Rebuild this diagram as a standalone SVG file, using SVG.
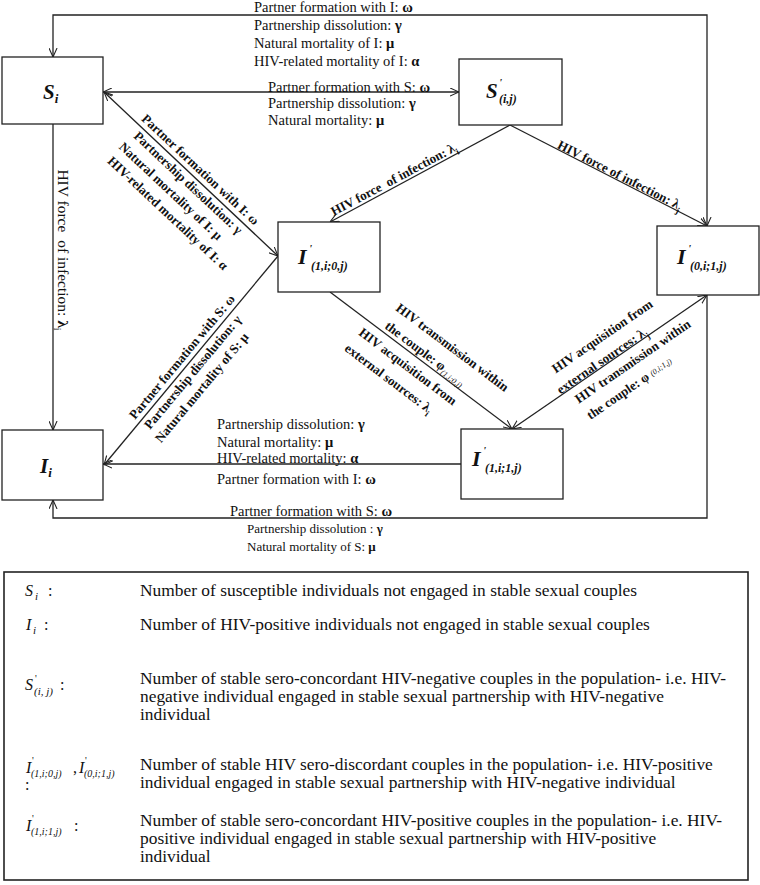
<svg xmlns="http://www.w3.org/2000/svg" width="760" height="885" viewBox="0 0 760 885">
<style>
.box{fill:#fff;stroke:#222;stroke-width:1.3}
.c{fill:none;stroke:#222;stroke-width:1.3}
.lab{font-family:"Liberation Serif",serif;font-size:14.5px;fill:#111}
.lab2{font-family:"Liberation Serif",serif;font-size:13px;fill:#111}
.bl{font-family:"Liberation Serif",serif;font-size:13px;font-weight:bold;fill:#111}
.g{font-weight:bold}
.nd{font-family:"Liberation Serif",serif;font-weight:bold;font-style:italic;fill:#111}
.leg{font-family:"Liberation Serif",serif;font-size:16px;fill:#111}
.sym{font-family:"Liberation Serif",serif;font-style:italic;fill:#111}
</style>
<defs>
<marker id="arr" viewBox="0 0 10 10" refX="10" refY="5" markerWidth="9" markerHeight="9" markerUnits="userSpaceOnUse" orient="auto-start-reverse">
<path d="M0,0.5 L10,5 L0,9.5" fill="none" stroke="#222" stroke-width="1.2"/>
</marker>
</defs>
<rect width="760" height="885" fill="#fff"/>

<g id="connectors">
<path class="c" d="M707,226 V15 H53 V57" marker-start="url(#arr)" marker-end="url(#arr)"/>
<path class="c" d="M103,92 H459" marker-start="url(#arr)" marker-end="url(#arr)"/>
<path class="c" d="M53,124 V430" marker-end="url(#arr)"/>
<path class="c" d="M104,92 L278,256" marker-start="url(#arr)" marker-end="url(#arr)"/>
<path class="c" d="M510,125 L330,222" marker-end="url(#arr)"/>
<path class="c" d="M510,125 L707,226" marker-end="url(#arr)"/>
<path class="c" d="M330,292 L512,429" marker-end="url(#arr)"/>
<path class="c" d="M512,429 L707,295" marker-start="url(#arr)" marker-end="url(#arr)"/>
<path class="c" d="M707,295 V518 H53 V500" marker-end="url(#arr)"/>
<path class="c" d="M461,464 H103" marker-end="url(#arr)"/>
<path class="c" d="M278,256 L104,465" marker-end="url(#arr)"/>
</g>

<g id="connector-labels">
<text class="lab" x="254" y="12">Partner formation with I: <tspan class="g">ω</tspan></text>
<text class="lab" x="254" y="30">Partnership dissolution: <tspan class="g">γ</tspan></text>
<text class="lab" x="254" y="48">Natural mortality of I: <tspan class="g">μ</tspan></text>
<text class="lab" x="254" y="66">HIV-related mortality of I: <tspan class="g">α</tspan></text>

<text class="lab" x="268" y="92">Partner formation with S: <tspan class="g">ω</tspan></text>
<text class="lab" x="268" y="108">Partnership dissolution: <tspan class="g">γ</tspan></text>
<text class="lab" x="268" y="125">Natural mortality: <tspan class="g">μ</tspan></text>

<text class="lab" xml:space="preserve" transform="translate(58,250) rotate(90)" text-anchor="middle" style="font-size:15.5px">HIV force  of infection: <tspan class="g">λ</tspan><tspan dy="4" style="font-size:10px">i</tspan></text>

<text class="bl" transform="translate(197.5,172.8) rotate(43.1)" text-anchor="middle">Partner formation with I: ω</text>
<text class="bl" transform="translate(185.2,185.9) rotate(43.1)" text-anchor="middle">Partnership dissolution: γ</text>
<text class="bl" transform="translate(167.8,194.3) rotate(43.1)" text-anchor="middle">Natural mortality of I: μ</text>
<text class="bl" transform="translate(164.9,216.4) rotate(43.1)" text-anchor="middle">HIV-related mortality of I: α</text>

<text class="bl" xml:space="preserve" transform="translate(396,183) rotate(-28)" text-anchor="middle">HIV force  of infection: λ<tspan dy="4" style="font-size:9px">i</tspan></text>
<text class="bl" transform="translate(618,179) rotate(27)" text-anchor="middle">HIV force of infection: λ<tspan dy="4" style="font-size:9px">j</tspan></text>

<text class="bl" transform="translate(449.8,350.9) rotate(37)" text-anchor="middle">HIV transmission within</text>
<text class="bl" transform="translate(422.7,356.8) rotate(37)" text-anchor="middle">the couple: φ<tspan dy="3" style="font-size:8px;font-style:italic;font-weight:normal">(1,i;0,j)</tspan></text>
<text class="bl" transform="translate(405.3,370) rotate(37)" text-anchor="middle">HIV acquisition from</text>
<text class="bl" transform="translate(386.2,382) rotate(37)" text-anchor="middle">external sources: λ<tspan dy="4" style="font-size:9px">i</tspan></text>

<text class="bl" transform="translate(604.7,339.8) rotate(-34.5)" text-anchor="middle">HIV acquisition from</text>
<text class="bl" transform="translate(604.5,364.2) rotate(-34.5)" text-anchor="middle">external sources: λ<tspan dy="4" style="font-size:9px">j</tspan></text>
<text class="bl" transform="translate(635.3,364.9) rotate(-34.5)" text-anchor="middle">HIV transmission within</text>
<text class="bl" transform="translate(631.8,391.6) rotate(-34.5)" text-anchor="middle">the couple: φ <tspan dy="-1" style="font-size:8px;font-style:italic;font-weight:normal">(0,i;1,j)</tspan></text>

<text class="bl" transform="translate(185.3,359.7) rotate(-50.2)" text-anchor="middle">Partner formation with S: ω</text>
<text class="bl" transform="translate(195.9,375) rotate(-50.2)" text-anchor="middle">Partnership dissolution: γ</text>
<text class="bl" transform="translate(205.1,390.5) rotate(-50.2)" text-anchor="middle">Natural mortality of S: μ</text>

<text class="lab" x="217" y="429">Partnership dissolution: <tspan class="g">γ</tspan></text>
<text class="lab" x="217" y="447">Natural mortality: <tspan class="g">μ</tspan></text>
<text class="lab" x="217" y="463">HIV-related mortality: <tspan class="g">α</tspan></text>
<text class="lab" x="217" y="484">Partner formation with I: <tspan class="g">ω</tspan></text>

<text class="lab" x="230" y="516">Partner formation with S: <tspan class="g">ω</tspan></text>
<text class="lab2" x="247" y="533">Partnership dissolution : <tspan class="g">γ</tspan></text>
<text class="lab2" x="247" y="551">Natural mortality of S: <tspan class="g">μ</tspan></text>
</g>

<g id="node-Si">
<rect class="box" x="2" y="57" width="101" height="67"/>
<text class="nd" x="43" y="99" style="font-size:21px">S<tspan dy="4" style="font-size:13px">i</tspan></text>
</g>
<g id="node-Sij">
<rect class="box" x="459" y="59" width="103" height="66"/>
<text class="nd" style="font-size:21px"><tspan x="486" y="98">S</tspan><tspan x="499" y="86" style="font-size:11px">'</tspan><tspan x="499" y="103" style="font-size:12px">(i,j)</tspan></text>
</g>
<g id="node-I10">
<rect class="box" x="278" y="222" width="102" height="70"/>
<text class="nd" style="font-size:22px"><tspan x="298" y="264">I</tspan><tspan x="309" y="252" style="font-size:11px">'</tspan><tspan x="311" y="270" style="font-size:12px">(1,i;0,j)</tspan></text>
</g>
<g id="node-I01">
<rect class="box" x="657" y="226" width="102" height="69"/>
<text class="nd" style="font-size:22px"><tspan x="677" y="264">I</tspan><tspan x="688" y="252" style="font-size:11px">'</tspan><tspan x="690" y="270" style="font-size:12px">(0,i;1,j)</tspan></text>
</g>
<g id="node-Ii">
<rect class="box" x="2" y="430" width="101" height="70"/>
<text class="nd" x="40" y="473" style="font-size:21px">I<tspan dy="4" style="font-size:13px">i</tspan></text>
</g>
<g id="node-I11">
<rect class="box" x="461" y="429" width="102" height="70"/>
<text class="nd" style="font-size:22px"><tspan x="472" y="466">I</tspan><tspan x="483" y="454" style="font-size:11px">'</tspan><tspan x="485" y="472" style="font-size:12px">(1,i;1,j)</tspan></text>
</g>

<g id="legend">
<rect x="4" y="572" width="744" height="308" fill="none" stroke="#222" stroke-width="1.6"/>
<text class="sym" style="font-size:16px"><tspan x="25" y="596">S</tspan><tspan x="35" y="600" style="font-size:11px">i</tspan><tspan x="44" y="596" style="font-style:normal"> :</tspan></text>
<text class="sym" style="font-size:16px"><tspan x="26" y="630">I</tspan><tspan x="33" y="634" style="font-size:11px">i</tspan><tspan x="40" y="630" style="font-style:normal"> :</tspan></text>
<text class="sym" style="font-size:16px"><tspan x="25" y="690">S</tspan><tspan x="35" y="682" style="font-size:10px;font-style:normal">'</tspan><tspan x="34" y="695" style="font-size:11px">(i, j)</tspan><tspan x="60" y="690" style="font-style:normal">:</tspan></text>
<text class="sym" style="font-size:16px"><tspan x="26" y="773">I</tspan><tspan x="32" y="764" style="font-size:10px;font-style:normal">'</tspan><tspan x="31" y="777" style="font-size:10px">(1,i;0,j)</tspan><tspan x="73" y="773" style="font-style:normal">,</tspan><tspan x="79" y="773">I</tspan><tspan x="85" y="764" style="font-size:10px;font-style:normal">'</tspan><tspan x="84" y="777" style="font-size:10px">(0,i;1,j)</tspan><tspan x="25" y="790" style="font-style:normal">:</tspan></text>
<text class="sym" style="font-size:16px"><tspan x="26" y="831">I</tspan><tspan x="32" y="822" style="font-size:10px;font-style:normal">'</tspan><tspan x="31" y="835" style="font-size:10px">(1,i;1,j)</tspan><tspan x="74" y="831" style="font-style:normal">:</tspan></text>

<g transform="translate(140,0) scale(1.088,1) translate(-140,0)">
<text class="leg" x="140" y="596">Number of susceptible individuals not engaged in stable sexual couples</text>
<text class="leg" x="140" y="630">Number of HIV-positive individuals not engaged in stable sexual couples</text>
<text class="leg" x="140" y="684">Number of stable sero-concordant HIV-negative couples in the population- i.e. HIV-</text>
<text class="leg" x="140" y="702">negative individual engaged in stable sexual partnership with HIV-negative</text>
<text class="leg" x="140" y="720">individual</text>
<text class="leg" x="140" y="770">Number of stable HIV sero-discordant couples in the population- i.e. HIV-positive</text>
<text class="leg" x="140" y="788">individual engaged in stable sexual partnership with HIV-negative individual</text>
<text class="leg" x="140" y="826">Number of stable sero-concordant HIV-positive couples in the population- i.e. HIV-</text>
<text class="leg" x="140" y="844">positive individual engaged in stable sexual partnership with HIV-positive</text>
<text class="leg" x="140" y="862">individual</text>
</g>
</g>
</svg>
